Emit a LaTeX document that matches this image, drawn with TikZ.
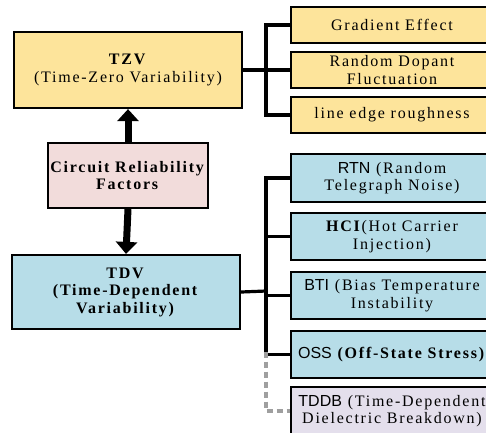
\documentclass[tikz,border=0pt]{standalone}
\usepackage{fontspec}
\setmainfont{Liberation Serif}[LetterSpace=11]
\newfontfamily\abbr{Liberation Sans}
\usetikzlibrary{arrows.meta}
\definecolor{tzvfill}{HTML}{FDE49B}
\definecolor{tdvfill}{HTML}{B7DDE8}
\definecolor{crffill}{HTML}{F2DCDB}
\definecolor{tddbfill}{HTML}{E4DFEC}
\tikzset{
  box/.style={draw=black, line width=2.2pt, align=center, inner sep=0pt,
    font=\fontsize{16}{17.5}\selectfont},
  leaf/.style={box, minimum width=202pt},
  link/.style={line width=3.2pt, line cap=rect},
  bigarrow/.style={line width=7pt, -{Triangle[width=21pt,length=12pt]}},
  optlink/.style={draw=gray!75, line width=3.6pt, dash pattern=on 6pt off 4pt}
}
\begin{document}
\begin{tikzpicture}[x=1pt,y=-1pt]
\useasboundingbox (0,0) rectangle (486,432);
\clip (0,0) rectangle (486,432);

% main column
\node[box, fill=tzvfill, minimum width=228pt, minimum height=76pt] (tzv) at (128,70)
  {\textbf{TZV}\\(Time-Zero Variability)};
\node[box, fill=crffill, minimum width=160pt, minimum height=65pt] (crf) at (128,175.5)
  {\textbf{Circuit Reliability}\\\textbf{Factors}};
\node[box, fill=tdvfill, minimum width=228pt, minimum height=74pt] (tdv) at (126,292)
  {\textbf{TDV}\\\textbf{(Time-Dependent}\\\textbf{Variability)}};

% time-zero variability branches
\node[leaf, fill=tzvfill, minimum height=36pt] (ge)  at (392,25)  {Gradient Effect};
\node[leaf, fill=tzvfill, minimum height=36pt] (rdf) at (392,70)  {Random Dopant\\Fluctuation};
\node[leaf, fill=tzvfill, minimum height=36pt] (ler) at (392,115) {line edge roughness};

% time-dependent variability branches
\node[leaf, fill=tdvfill, minimum height=48pt] (rtn) at (392,178)
  {{\abbr RTN} (Random\\Telegraph Noise)};
\node[leaf, fill=tdvfill, minimum height=47pt] (hci) at (392,236.5)
  {\textbf{HCI}(Hot Carrier\\Injection)};
\node[leaf, fill=tdvfill, minimum height=47pt] (bti) at (392,295.5)
  {{\abbr BTI} (Bias Temperature\\Instability};
\node[leaf, fill=tdvfill, minimum height=47pt] (oss) at (392,354.5)
  {{\abbr OSS} \textbf{(Off-State Stress)}};
\node[leaf, fill=tddbfill, minimum height=48pt] (tddb) at (392,411)
  {{\abbr TDDB} (Time-Dependent\\Dielectric Breakdown)};

% arrows from the central box
\draw[bigarrow] (crf.north) -- (tzv.south);
\draw[bigarrow] (crf.south) -- (tdv.north);

% upper bracket
\coordinate (tj) at (266,70);
\draw[line width=4.5pt] (tzv.east) -- (tj);
\draw[link] (ge.west) -- (ge.west -| tj) -- (ler.west -| tj) -- (ler.west);
\draw[link] (tj) -- (rdf.west);

% lower bracket
\coordinate (bj) at (266,291);
\coordinate (bend) at (266,354.5);
\draw[link] (tdv.east) -- (bj);
\draw[link] (rtn.west) -- (rtn.west -| bj) -- (bend) -- (oss.west);
\draw[link] (hci.west) -- (hci.west -| bj);
\draw[link] (bti.west) -- (bti.west -| bj);
\draw[optlink] ([yshift=3pt]bend) |- (tddb.west);
\end{tikzpicture}
\end{document}
